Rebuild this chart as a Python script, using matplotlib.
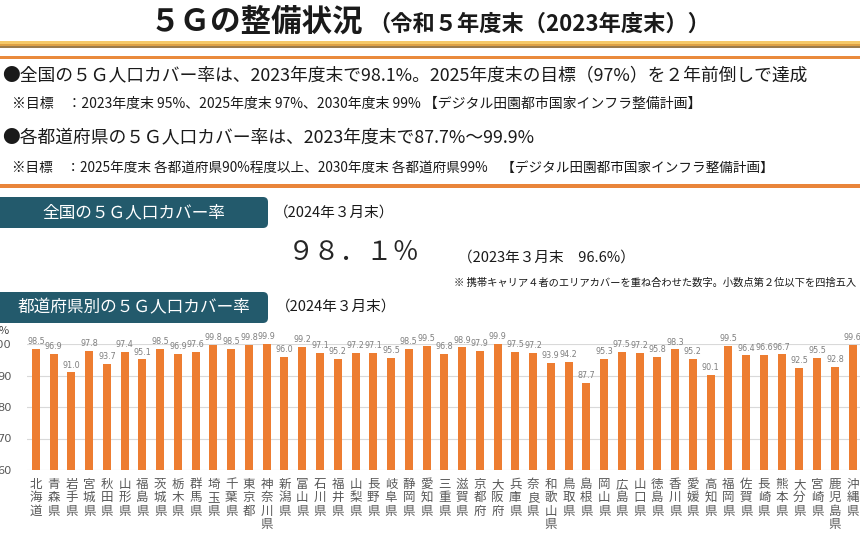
import matplotlib
matplotlib.use('Agg')
import matplotlib.pyplot as plt
from matplotlib.patches import Rectangle, FancyBboxPatch

plt.rcParams['font.family'] = ['Noto Sans CJK JP', 'DejaVu Sans']

# data
prefs = ['北海道', '青森県', '岩手県', '宮城県', '秋田県', '山形県', '福島県',
         '茨城県', '栃木県', '群馬県', '埼玉県', '千葉県', '東京都', '神奈川県',
         '新潟県', '富山県', '石川県', '福井県', '山梨県', '長野県', '岐阜県',
         '静岡県', '愛知県', '三重県', '滋賀県', '京都府', '大阪府', '兵庫県',
         '奈良県', '和歌山県', '鳥取県', '島根県', '岡山県', '広島県', '山口県',
         '徳島県', '香川県', '愛媛県', '高知県', '福岡県', '佐賀県', '長崎県',
         '熊本県', '大分県', '宮崎県', '鹿児島県', '沖縄県']
coverage = [98.5, 96.9, 91.0, 97.8, 93.7, 97.4, 95.1,
            98.5, 96.9, 97.6, 99.8, 98.5, 99.8, 99.9,
            96.0, 99.2, 97.1, 95.2, 97.2, 97.1, 95.5,
            98.5, 99.5, 96.8, 98.9, 97.9, 99.9, 97.5,
            97.2, 93.9, 94.2, 87.7, 95.3, 97.5, 97.2,
            95.8, 98.3, 95.2, 90.1, 99.5, 96.4, 96.6,
            96.7, 92.5, 95.5, 92.8, 99.6]
yticks = [60, 70, 80, 90, 100]

title = '５Ｇの整備状況'
subtitle = '（令和５年度末（2023年度末））'
bullet1 = '●全国の５Ｇ人口カバー率は、2023年度末で98.1%。2025年度末の目標（97%）を２年前倒しで達成'
note1 = '※目標　：2023年度末 95%、2025年度末 97%、2030年度末 99% 【デジタル田園都市国家インフラ整備計画】'
bullet2 = '●各都道府県の５Ｇ人口カバー率は、2023年度末で87.7%～99.9%'
note2 = '※目標　：2025年度末 各都道府県90%程度以上、2030年度末 各都道府県99%　【デジタル田園都市国家インフラ整備計画】'
box1 = '全国の５Ｇ人口カバー率'
box2 = '都道府県別の５Ｇ人口カバー率'
period = '（2024年３月末）'
national = '９８．１％'
prev = '（2023年３月末　96.6%）'
footnote = '※ 携帯キャリア４者のエリアカバーを重ね合わせた数字。小数点第２位以下を四捨五入'

W, H = 860, 538
fig = plt.figure(figsize=(W / 100, H / 100), dpi=100)

# background layer in pixel coordinates
bg = fig.add_axes([0, 0, 1, 1])
bg.set_xlim(0, W)
bg.set_ylim(H, 0)
bg.axis('off')

teal = '#235a6c'
orange = '#ED7D31'
dark = '#1a1a1a'

# header lines
bg.add_patch(Rectangle((0, 41), W, 3, color='#f5c867', lw=0))
bg.add_patch(Rectangle((0, 44), W, 2, color='#dea043', lw=0))
bg.add_patch(Rectangle((0, 46), W, 2, color='#9b7b4b', lw=0))
bg.add_patch(Rectangle((0, 55.5), W, 3, color='#ea8a3c', lw=0))
bg.add_patch(Rectangle((0, 184), W, 3.5, color='#e9853a', lw=0))

bg.text(150, 22, title, fontsize=22, fontweight='bold', color=dark, va='center')
bg.text(368, 24, subtitle, fontsize=16, fontweight='bold', color=dark, va='center')

bg.text(2, 75, bullet1, fontsize=12.8, color=dark, va='center')
bg.text(12, 104, note1, fontsize=10, color=dark, va='center')
bg.text(2, 137, bullet2, fontsize=12.8, color=dark, va='center')
bg.text(12, 168, note2, fontsize=9.8, color=dark, va='center')

# section boxes
for y0, label in [(197, box1), (292, box2)]:
    bg.add_patch(FancyBboxPatch((-20, y0), 288, 31,
                                boxstyle='round,pad=0,rounding_size=5',
                                fc=teal, ec='none'))
    bg.text(134, y0 + 15.5, label, fontsize=12, color='white',
            ha='center', va='center')
bg.text(274, 213, period, fontsize=10.5, color=dark, va='center')
bg.text(276, 307, period, fontsize=10.5, color=dark, va='center')

bg.text(288, 253, national, fontsize=19, color='#262626', va='center')
bg.text(458, 258, prev, fontsize=10.5, color=dark, va='center')
bg.text(856, 283, footnote, fontsize=7.4, color=dark, ha='right', va='center')
bg.text(-1, 331, '%', fontsize=8, color='#404040', va='center')

# bar chart
left, right = 27, 861.6
top, bottom = 344, 470
ax = fig.add_axes([left / W, 1 - bottom / H, (right - left) / W, (bottom - top) / H])
x = list(range(len(prefs)))
ax.bar(x, coverage, width=0.45, color=orange, zorder=3)
for i, v in zip(x, coverage):
    ax.text(i, v + 0.9, f'{v:.1f}', ha='center', va='bottom', fontsize=5.8,
            color='#7f7f7f', family='DejaVu Sans', clip_on=False)

ax.set_ylim(60, 100)
ax.set_xlim(-0.5, len(prefs) - 0.5)
ax.set_yticks(yticks)
ax.set_yticklabels([str(t) for t in yticks], family='DejaVu Sans')
ax.set_xticks(x)
ax.set_xticklabels(['\n'.join(p) for p in prefs], fontsize=9, linespacing=1.05,
                   va='top')
ax.tick_params(axis='y', length=0, pad=11, labelsize=8.2, labelcolor='#595959')
ax.tick_params(axis='x', length=0, pad=5.5, labelcolor='#595959')
ax.grid(axis='y', color='#d9d9d9', lw=0.8, zorder=0)
for s in ax.spines.values():
    s.set_visible(False)
ax.patch.set_alpha(0)

fig.savefig('out.png', dpi=100)
